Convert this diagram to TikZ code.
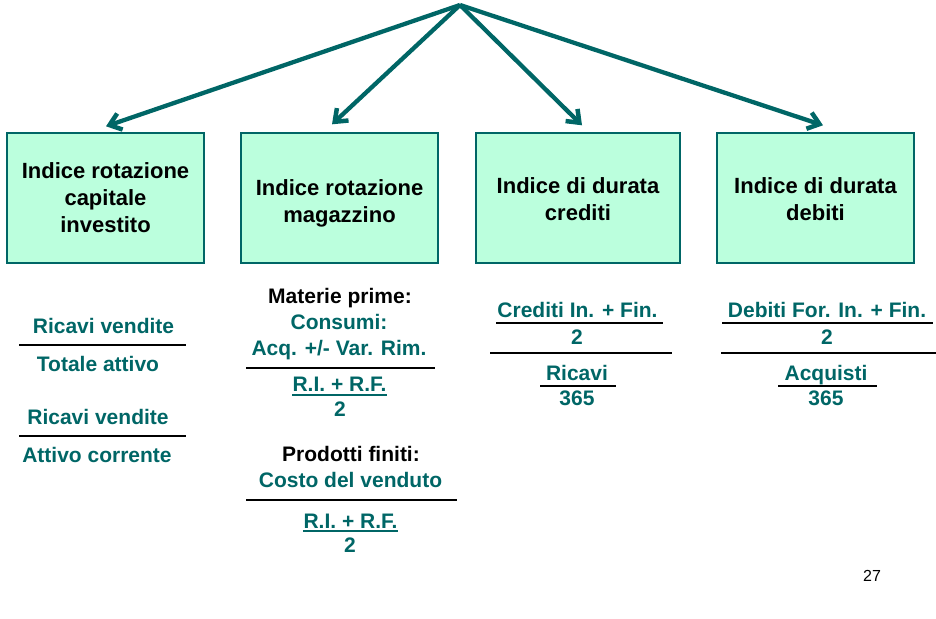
\documentclass[tikz,border=0pt]{standalone}
\usepackage{fontspec}
\setmainfont{Liberation Sans}
\usetikzlibrary{arrows.meta}
\definecolor{verde}{RGB}{0,102,102}
\definecolor{menta}{RGB}{187,255,221}
\begin{document}
\begin{tikzpicture}[
        x=1pt, y=-1pt,
        indice/.style={draw=verde, fill=menta, line width=1.4pt, rectangle, minimum width=197pt, minimum height=130pt, inner sep=0pt, text depth=0pt, align=center, font=\fontsize{22}{27}\selectfont\bfseries},
        formula/.style={anchor=base, inner sep=0pt, text=verde, font=\fontsize{21}{25}\selectfont\bfseries},
        titolo/.style={anchor=base, inner sep=0pt, text=black, font=\fontsize{21}{25}\selectfont\bfseries},
        freccia/.style={draw=verde, line width=4.3pt, -{Straight Barb[length=11pt, width=17pt, line width=4.5pt]}},
        barra/.style={draw=black, line width=1.8pt},
        sottolinea/.style={draw=verde, line width=1.8pt}
    ]
        \useasboundingbox (0,0) rectangle (936,618);

        % Riquadri degli indici
        \node[indice] (cap) at (105.5,198) {Indice rotazione\\capitale\\investito};
        \node[indice] (mag) at (339.5,198) {\rule{0pt}{21pt}Indice rotazione\\magazzino};
        \node[indice, minimum width=204pt] (cre) at (578,198) {\rule{0pt}{18pt}Indice di durata\\crediti};
        \node[indice] (deb) at (815.5,198) {\rule{0pt}{18pt}Indice di durata\\debiti};

        % Frecce dal vertice
        \coordinate (apice) at (460,5);
        \foreach \b/\dx/\dy in {cap/0.5/-6, mag/-7.5/-8, cre/4/-7, deb/7.5/-7}
            \draw[freccia] (apice) -- ([shift={(\dx,\dy)}]\b.north);

        % Capitale investito
        \node[formula] (cap1) at (103.5,333.3) {Ricavi vendite};
        \draw[barra] (19,345) -- (186,345);
        \node[formula] (cap2) at (98,371.7) {Totale attivo};
        \node[formula] (cap3) at (98,424) {Ricavi vendite};
        \draw[barra] (19,436) -- (186,436);
        \node[formula] (cap4) at (97,462.3) {Attivo corrente};

        % Magazzino
        \node[titolo] (mp) at (340,303.3) {Materie prime:};
        \node[formula] (mp1) at (339,329.3) {Consumi:};
        \node[formula] (mp2) at (339,355) {Acq. +/- Var. Rim.};
        \draw[barra] (246,368) -- (435,368);
        \node[formula] (mp3) at (339.5,391.7) {R.I. + R.F.};
        \draw[sottolinea] ([yshift=-3pt]mp3.base west) -- ([yshift=-3pt]mp3.base east);
        \node[formula] (mp4) at (340,416) {2};
        \node[titolo] (pf) at (351,461.7) {Prodotti finiti:};
        \node[formula] (pf1) at (350.5,487.3) {Costo del venduto};
        \draw[barra] (246,500) -- (457,500);
        \node[formula] (pf2) at (350.5,528.3) {R.I. + R.F.};
        \draw[sottolinea] ([yshift=-3pt]pf2.base west) -- ([yshift=-3pt]pf2.base east);
        \node[formula] (pf3) at (350,552) {2};

        % Crediti
        \node[formula] (cr1) at (577.5,317) {Crediti In. + Fin.};
        \draw[barra] (496,323) -- (663,323);
        \node[formula] (cr2) at (577,344) {2};
        \draw[barra] (490,353) -- (672,353);
        \node[formula] (cr3) at (577,380) {Ricavi};
        \draw[barra] (540,386) -- (616,386);
        \node[formula] (cr4) at (577,405) {365};

        % Debiti
        \node[formula] (db1) at (827,317) {Debiti For. In. + Fin.};
        \draw[barra] (722,323) -- (933,323);
        \node[formula] (db2) at (827,344) {2};
        \draw[barra] (721,353) -- (936,353);
        \node[formula] (db3) at (826,380) {Acquisti};
        \draw[barra] (778,386) -- (877,386);
        \node[formula] (db4) at (826,405) {365};

        % Numero pagina
        \node[anchor=base, inner sep=0pt, font=\fontsize{16}{19}\selectfont] (pag) at (872,581) {27};
    \end{tikzpicture}
\end{document}
